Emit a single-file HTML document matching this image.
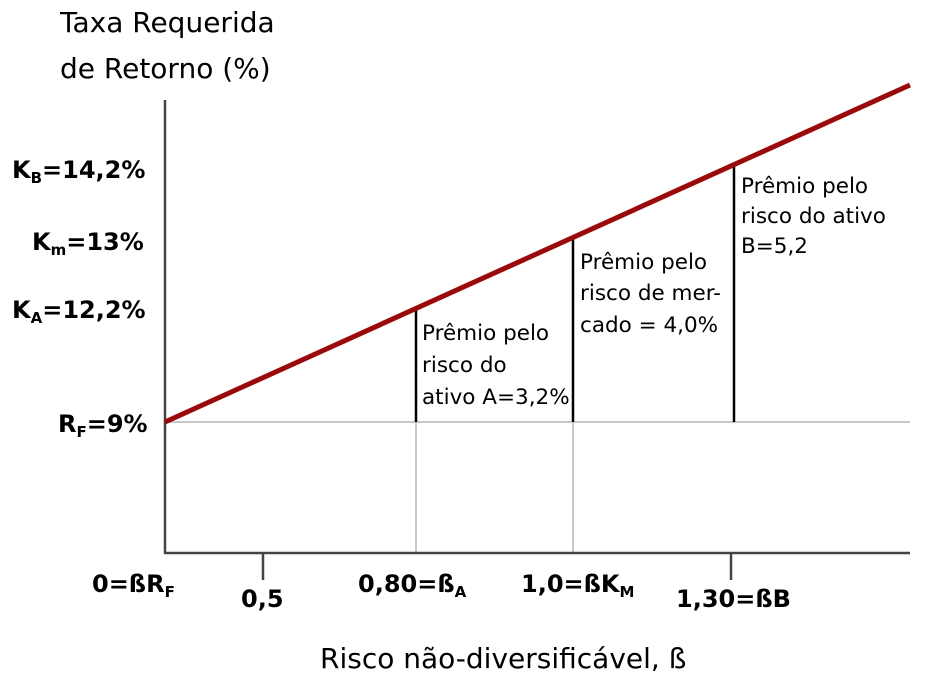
<!DOCTYPE html>
<html><head><meta charset="utf-8"><style>
body{margin:0;background:#fff;}
svg{display:block;font-family:"DejaVu Sans","Liberation Sans",sans-serif;}
.b{font-weight:bold;font-size:24px;fill:#000}
.t{font-size:21.5px;fill:#000}
</style></head><body>
<svg width="939" height="690" viewBox="0 0 939 690">
<text x="60" y="32" font-size="28">Taxa Requerida</text>
<text x="60" y="78" font-size="28">de Retorno (%)</text>
<line x1="165" y1="422" x2="910" y2="422" stroke="#c8c8c8" stroke-width="2"/>
<line x1="416" y1="422" x2="416" y2="553" stroke="#c8c8c8" stroke-width="2"/>
<line x1="573" y1="422" x2="573" y2="553" stroke="#c8c8c8" stroke-width="2"/>
<line x1="165" y1="100" x2="165" y2="554" stroke="#444" stroke-width="2.5"/>
<line x1="164" y1="553" x2="910" y2="553" stroke="#444" stroke-width="2.5"/>
<line x1="263" y1="553" x2="263" y2="580" stroke="#444" stroke-width="2.5"/>
<line x1="731" y1="553" x2="731" y2="580" stroke="#444" stroke-width="2.5"/>
<line x1="416" y1="422" x2="416" y2="308" stroke="#000" stroke-width="2.5"/>
<line x1="573" y1="422" x2="573" y2="237" stroke="#000" stroke-width="2.5"/>
<line x1="734" y1="422" x2="734" y2="166" stroke="#000" stroke-width="2.5"/>
<line x1="165" y1="422" x2="910" y2="85" stroke="#9b0a0a" stroke-width="5"/>
<text class="b" x="12" y="178">K<tspan font-size="15" dy="5">B</tspan><tspan dy="-5">=14,2%</tspan></text>
<text class="b" x="32" y="250">K<tspan font-size="15" dy="5">m</tspan><tspan dy="-5">=13%</tspan></text>
<text class="b" x="12" y="318">K<tspan font-size="15" dy="5">A</tspan><tspan dy="-5">=12,2%</tspan></text>
<text class="b" x="58" y="432">R<tspan font-size="15" dy="5">F</tspan><tspan dy="-5">=9%</tspan></text>
<text class="t" x="422" y="340">Prêmio pelo</text>
<text class="t" x="422" y="372">risco do</text>
<text class="t" x="422" y="404">ativo A=3,2%</text>
<text class="t" x="580" y="269">Prêmio pelo</text>
<text class="t" x="580" y="300">risco de mer-</text>
<text class="t" x="580" y="332">cado = 4,0%</text>
<text class="t" x="741" y="193">Prêmio pelo</text>
<text class="t" x="741" y="223">risco do ativo</text>
<text class="t" x="741" y="253">B=5,2</text>
<text class="b" x="92" y="592">0=ßR<tspan font-size="15" dy="5">F</tspan></text>
<text class="b" x="241" y="607">0,5</text>
<text class="b" x="358" y="592">0,80=ß<tspan font-size="15" dy="5">A</tspan></text>
<text class="b" x="521" y="592">1,0=ßK<tspan font-size="15" dy="5">M</tspan></text>
<text class="b" x="676" y="607">1,30=ßB</text>
<text x="320" y="668" font-size="28">Risco não-diversificável, ß</text>
</svg>
</body></html>
